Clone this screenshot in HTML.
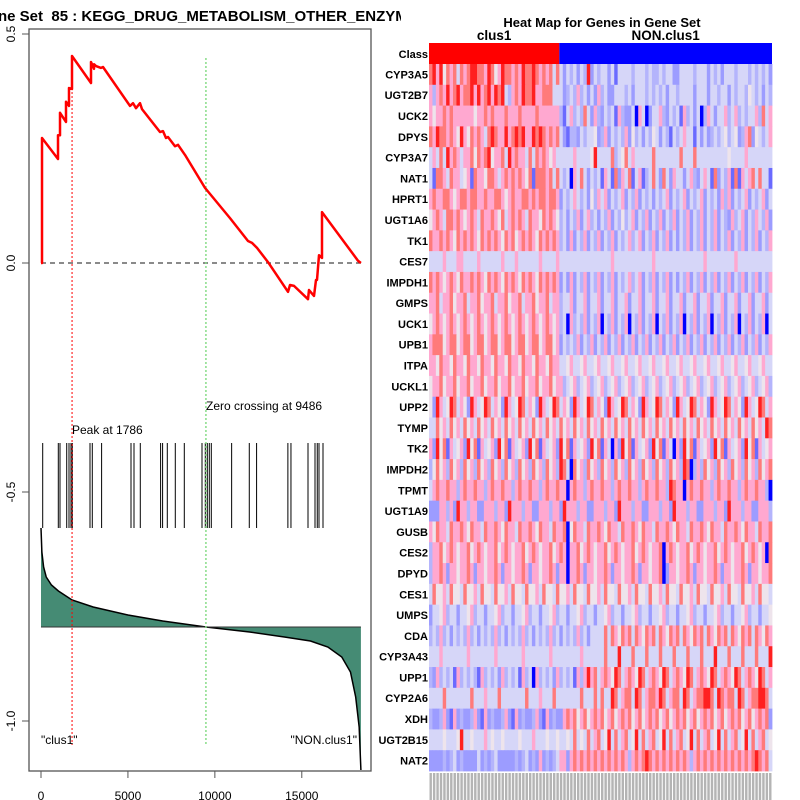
<!DOCTYPE html>
<html><head><meta charset="utf-8"><style>
body{margin:0;background:#fff;width:800px;height:800px;overflow:hidden}
svg{display:block}
text{font-family:"Liberation Sans",sans-serif}
</style></head><body>
<svg id="chart" width="800" height="800">
<defs><clipPath id="tclip"><rect x="0" y="0" width="401" height="30"/></clipPath></defs>
<g id="left"></g>
<g id="right"></g>
</svg>
<script>
// ---- enrichment data ----
const esIdx=[0,58,58,978,978,1093,1093,1438,1438,1610,1610,1783,1783,2876,2876,3048,3048,3163,3451,3566,5119,5292,5464,5694,5809,6844,7017,7189,7304,7707,7880,8282,9433,10871,11906,12136,12424,13056,14207,14322,14552,15357,15414,15702,15817,15875,15990,16162,16162,18233,18400];
const esVal=[0,0,0.273,0.227,0.279,0.279,0.328,0.308,0.352,0.343,0.382,0.380,0.452,0.393,0.439,0.424,0.434,0.430,0.426,0.428,0.343,0.349,0.338,0.349,0.336,0.286,0.288,0.273,0.275,0.255,0.258,0.236,0.164,0.098,0.048,0.044,0.033,0.002,-0.063,-0.048,-0.050,-0.079,-0.059,-0.072,-0.037,-0.037,0.017,0.011,0.111,0.005,0];
const hits=[98,995,1093,1479,1610,1725,1800,2818,2950,3486,5177,5349,5711,6879,6994,7264,7724,8242,9260,9450,9565,9680,9795,10965,11980,12400,14200,14377,15357,15760,15890,15990,16220];
const metIdx=[0,50,150,300,600,1000,1786,3000,5000,7000,9486,12000,14000,15500,16500,17300,17800,18100,18300,18400];
const metVal=[0.99,0.75,0.60,0.50,0.42,0.36,0.27,0.20,0.12,0.06,0,-0.05,-0.10,-0.14,-0.20,-0.30,-0.45,-0.70,-1.00,-1.43];
const xTicks=[0,5000,10000,15000];
const yTicks=[0.5,0.0,-0.5,-1.0];
const xS=v=>41+v*0.017386, yS=v=>263-v*458, mS=v=>627-v*100;
const NS='http://www.w3.org/2000/svg';
function mk(p,t,a,txt){const e=document.createElementNS(NS,t);for(const k in a)e.setAttribute(k,a[k]);if(txt!==undefined)e.textContent=txt;p.appendChild(e);return e;}
const L=document.getElementById('left');
let e;
e=mk(L,'text',{x:-2,y:21,'font-size':15,'font-weight':'bold','clip-path':'url(#tclip)'},'ne Set\u00a0\u00a085 : KEGG_DRUG_METABOLISM_OTHER_ENZYMES');


e=mk(L,'rect',{x:29,y:29,width:342,height:742,fill:'none',stroke:'#555','stroke-width':1.3});


let d='M'+xS(0)+','+mS(0);
metIdx.forEach((v,i)=>{d+=' L'+xS(v)+','+mS(metVal[i]);});
d+=' L'+xS(18400)+','+mS(0)+' Z';
e=mk(L,'path',{d:d,fill:'#458b74',stroke:'none'});


d='M'+metIdx.map((v,i)=>xS(v)+','+mS(metVal[i])).join(' L');
e=mk(L,'path',{d:d,fill:'none',stroke:'#000','stroke-width':1.5});


e=mk(L,'line',{x1:xS(0),x2:xS(18400),y1:mS(0),y2:mS(0),stroke:'#333','stroke-width':1});


hits.forEach(h=>{const t=mk(L,'line',{x1:xS(h),x2:xS(h),y1:443,y2:528,stroke:'#000','stroke-width':1});

});
e=mk(L,'line',{x1:xS(0),x2:xS(18400),y1:yS(0),y2:yS(0),stroke:'#444','stroke-dasharray':'5,4','stroke-width':1.2});


e=mk(L,'line',{x1:xS(1786),x2:xS(1786),y1:60,y2:745,stroke:'#f00','stroke-dasharray':'2,2','stroke-width':1});


e=mk(L,'line',{x1:xS(9486),x2:xS(9486),y1:58,y2:745,stroke:'#8d8','stroke-dasharray':'2,2','stroke-width':1.5});


d='M'+esIdx.map((v,i)=>xS(v)+','+yS(esVal[i])).join(' L');
e=mk(L,'path',{d:d,fill:'none',stroke:'#f00','stroke-width':2.5,'stroke-linejoin':'round'});


e=mk(L,'text',{x:72,y:434,'font-size':12},'Peak at 1786');


e=mk(L,'text',{x:206,y:410,'font-size':12},'Zero crossing at 9486');


e=mk(L,'text',{x:41,y:744,'font-size':12},'"clus1"');


e=mk(L,'text',{x:357,y:744,'font-size':12,'text-anchor':'end'},'"NON.clus1"');


xTicks.forEach(v=>{let t=mk(L,'line',{x1:xS(v),x2:xS(v),y1:771,y2:778,stroke:'#555'});


t=mk(L,'text',{x:xS(v),y:800,'font-size':12,'text-anchor':'middle'},String(v));

});
yTicks.forEach(v=>{let t=mk(L,'line',{x1:22,x2:29,y1:yS(v),y2:yS(v),stroke:'#555'});


t=mk(L,'text',{x:0,y:0,'font-size':12,'text-anchor':'middle',transform:'translate(15,'+yS(v)+') rotate(-90)'},v.toFixed(1));

});

// ---- heatmap data ----
const genes=["CYP3A5","UGT2B7","UCK2","DPYS","CYP3A7","NAT1","HPRT1","UGT1A6","TK1","CES7","IMPDH1","GMPS","UCK1","UPB1","ITPA","UCKL1","UPP2","TYMP","TK2","IMPDH2","TPMT","UGT1A9","GUSB","CES2","DPYD","CES1","UMPS","CDA","CYP3A43","UPP1","CYP2A6","XDH","UGT2B15","NAT2"];
const cells=[
"7868576747678877687568776768778767674742434243824344241444434443433434422444434442434244434443434342",
"6367686786778686786878436768778667774442343634242634224443424443434342443444424442443442434435434243",
"6566767666666566767666766676666766666631463437426324341632240640244632434163424036424463463434463746",
"7687767658657676478766867878668787676742133243445236243436253424354243143464414242343453452367254346",
"4647486764667576785667486766474767656444446444458444473457464444474444444744474444444445444464444444",
"4177647664561766577646767676571777674743406474243416417264714613474274264424632464172436171646747441",
"6766776567767766766776567667767677677624346434253646243462436243424346243462434624342636243462434624",
"5676477676567647667657467676476657676534243624634243624353462436243624362436243624362432634624364362",
"7667676576767657676765767567676576767634262436243624362434634624362436242436243624362436243624362436",
"4444644466444464444446444644444464444644444444444444464444444444464444444444444464444444464444444444",
"7676567657667676576765767657676576767624262436243624362434634624362436242436243624362436243624362436",
"6674667566746675667466756674667566746634462446244624462446244624462446244624462446244624462446244624",
"5676567656765676567656765676567656765634063436243604362436043624360436243604362436043624360436243604",
"6777567756775677567756775677567756775624343624362436243624362436243624362436243624362436243624362436",
"6657665766576657665766576657665766576644564456445644564456445644564456445644564456445644564456445644",
"5667566756675667566756675667566756675663456345634563456345634563456345634563456345634563456345634563",
"5286458746528645874652864587465286458746528645874652864587465286458746528645874652864587465286458746",
"4475647564756475647564756475647564756475647564756475647564756475647564756475647564756475647564756487",
"6285716456285716456285716456285716456285716456285716406285716456285716406285716456285716456285716456",
"3575637563756375637563756375637563756387407563756375637563756375637563756387036375637563756375637567",
"4676676636766766367667663676676636766766067663676676636766766367667663876606766766367667663676676630",
"2226636286636622666366286663662266636628666366226663662866636622666366286663662266636628666366226663",
"6576647667657664766765766476676576647667057664766765766476676576647667657664766765766476676576647667",
"3667567656675676566756765667567656675676066756765667567656675676566706765667567656675676566756765607",
"3667626656676266566762665667626656676266066762665667626656676266566702665667626656676266566762665667",
"4755647554755647554755647554755647554755647554755647554755647554755647554755647554755647554755647554",
"2445634424456344244563442445634424456344244563442445634424456344244563442445634424456344244563442445",
"3436342434363424343634243436342434363424343634244447476576747657674765767476576747657674765767476576",
"4446444444464444444644444446444444464444444464444447444844474447444744474447444744484447444744474448",
"3263434163434316343426343416340634342634341636867467658746765874676587467658746765874676587467658746",
"4444744444447444644474444444744464447444444474447474487467748746776874677487467788748767748746778874",
"3223621623223621623223621623223621623226767567567675675676756756767567567675675676756756767567567672",
"4444544458445444645445444454446444544544547454746745847467458474674584746745847467458474674584746745",
"2222323423222242323422222323423262323466267676767676767676367678767676767676367676767676767676787674"
];
const clusN=38;
const palette=["#0000ff","#6a6aff","#9c9cff","#b4b4fc","#d6d6f8","#eee4ec","#ffa8d0","#ff7a7a","#ff2020"];
const R=document.getElementById('right');
const hx0=429,hx1=772,hy0=64,rowH=707/34,nCol=100,cw=(hx1-hx0)/nCol;
e=mk(R,'text',{x:602,y:27,'font-size':13,'font-weight':'bold','text-anchor':'middle'},'Heat Map for Genes in Gene Set');


e=mk(R,'text',{x:hx0+clusN*cw/2,y:40,'font-size':13.5,'font-weight':'bold','text-anchor':'middle'},'clus1');


e=mk(R,'text',{x:hx0+clusN*cw+(nCol-clusN)*cw/2,y:40,'font-size':13.5,'font-weight':'bold','text-anchor':'middle'},'NON.clus1');


e=mk(R,'rect',{x:hx0,y:43,width:clusN*cw,height:21,fill:'#f00'});


e=mk(R,'rect',{x:hx0+clusN*cw,y:43,width:(nCol-clusN)*cw,height:21,fill:'#00f'});


e=mk(R,'text',{x:428,y:58,'font-size':11,'font-weight':'bold','text-anchor':'end'},'Class');


genes.forEach((g,r)=>{
  const s=cells[r]||'';
  for(let c=0;c<nCol;c++){
    const v=parseInt(s[c]||'4');
    const cell=mk(R,'rect',{x:hx0+c*cw,y:hy0+r*rowH,width:cw+0.4,height:rowH+0.4,fill:palette[v]});
    
    
  }
  const t=mk(R,'text',{x:428,y:hy0+r*rowH+rowH/2+4,'font-size':11,'font-weight':'bold','text-anchor':'end'},g);
  
  
});
for(let c=0;c<nCol;c++){
  const t=mk(R,'rect',{x:hx0+c*cw+0.5,y:773,width:cw-1,height:27,fill:'#777',opacity:0.55});
  
  
}
</script>
</body></html>
